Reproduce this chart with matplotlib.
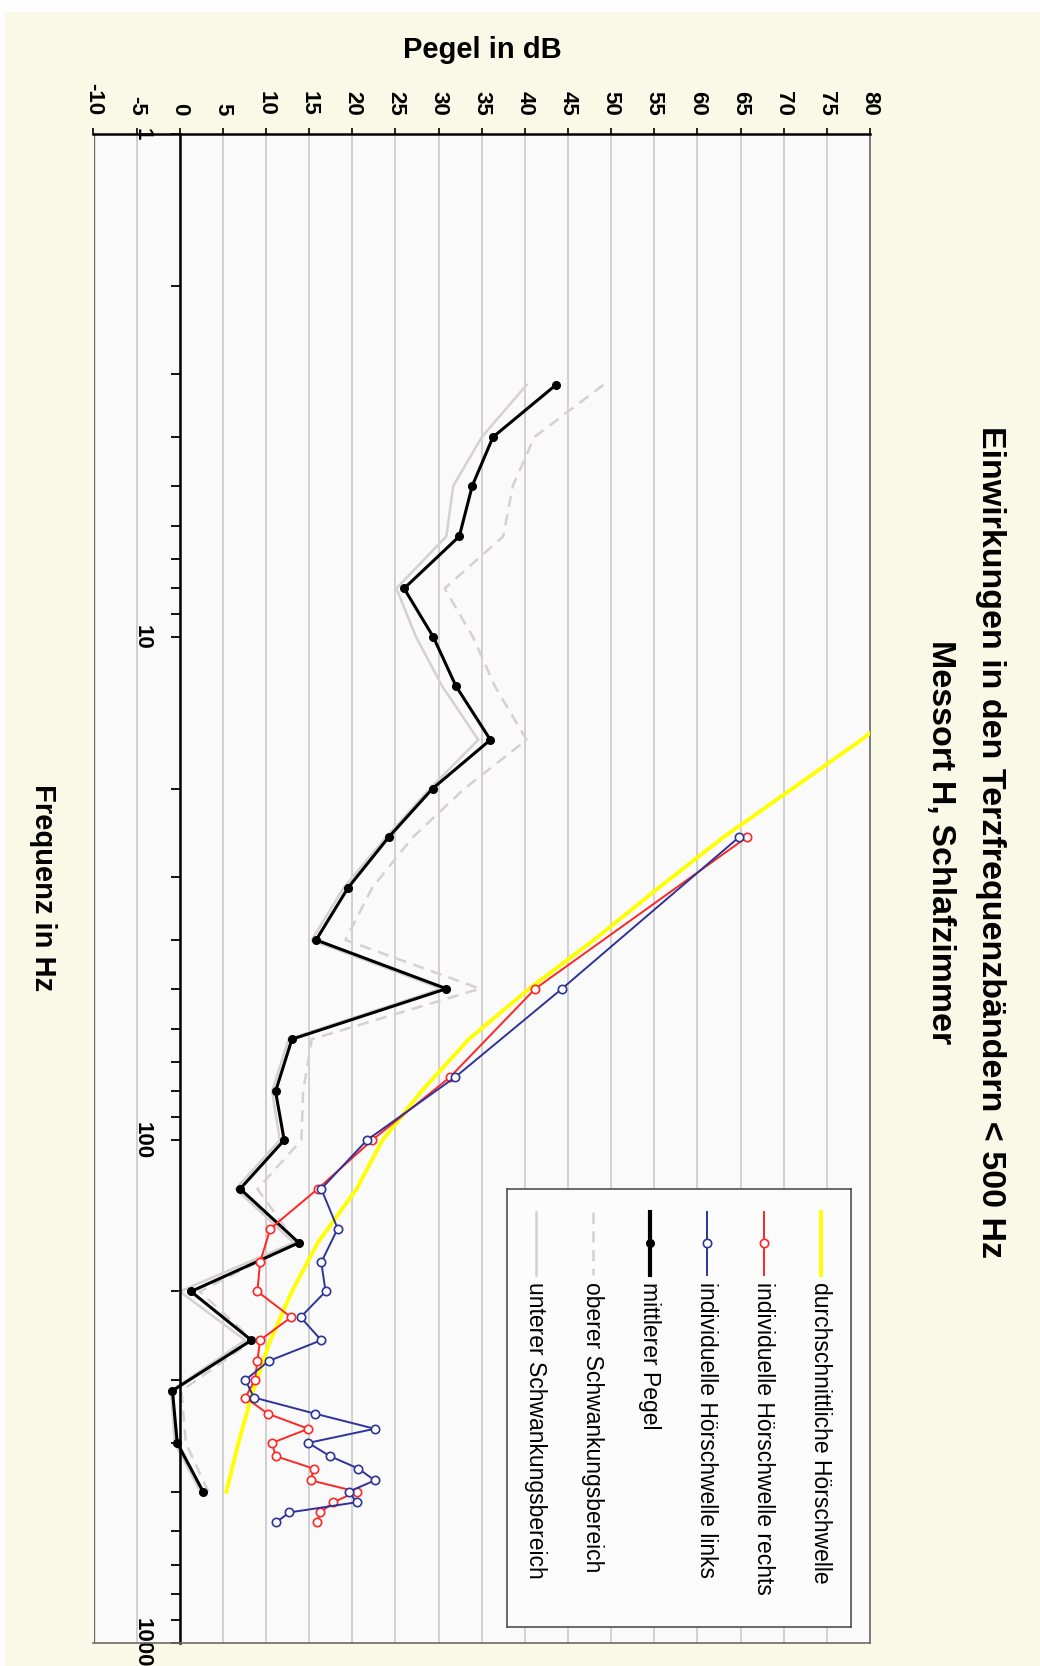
import matplotlib
matplotlib.use("Agg")
import matplotlib.pyplot as plt
from matplotlib.patches import Rectangle
from matplotlib.ticker import FixedLocator, LogLocator, NullFormatter

plt.rcParams['font.family'] = ['Liberation Sans', 'DejaVu Sans']

W, H = 1040, 1666

# Terzbänder der Messung (Hz) und Pegel (dB)
band_hz = [3.15, 4, 5, 6.3, 8, 10, 12.5, 16, 20, 25, 31.5, 40, 50, 63, 80,
           100, 125, 160, 200, 250, 315, 400, 500]
pegel_mittel = [43.6, 36.3, 33.9, 32.4, 26.0, 29.4, 32.0, 36.0, 29.3, 24.2, 19.5, 15.8, 30.9,
                13.0, 11.1, 12.1, 7.0, 13.8, 1.3, 8.3, -0.85, -0.3, 2.7]
pegel_oben = [49.1, 41.1, 38.6, 37.5, 30.7, 34.0, 36.5, 40.2, 33.0, 27.0, 22.3, 19.2, 34.8,
              15.3, 14.3, 14.1, 9.0, 13.5, 2.3, 8.5, 0.2, 0.7, 3.3]
pegel_unten = [40.2, 35.0, 31.7, 30.9, 25.1, 27.4, 30.4, 34.6, 29.0, 23.9, 19.0, 15.3, 30.3,
               12.6, 10.7, 11.6, 6.5, 13.2, 0.0, 7.6, -1.0, -0.6, 2.4]

# durchschnittliche Hörschwelle
schwelle_hz = [12.5, 16, 20, 25, 31.5, 40, 50, 63, 80, 100, 125, 160, 200, 250, 315, 400, 500]
schwelle_db = [87, 79, 71, 63, 55.5, 48, 40.5, 33.5, 28, 23.5, 20.5, 16, 13, 10.5, 8.5, 6.8, 5.4]

# individuelle Hörschwelle (25-Hz-Schritte)
hoer_hz = [25, 50, 75, 100, 125, 150, 175, 200, 225, 250, 275, 300, 325, 350, 375,
           400, 425, 450, 475, 500, 525, 550, 575]
hoer_rechts = [65.7, 41.2, 31.3, 22.3, 16.0, 10.5, 9.3, 9.0, 12.9, 9.3, 9.0, 8.7, 7.6, 10.2,
               14.9, 10.7, 11.1, 15.5, 15.2, 20.5, 17.8, 16.3, 15.9]
hoer_links = [64.8, 44.3, 31.9, 21.7, 16.4, 18.3, 16.4, 16.9, 14.0, 16.4, 10.3, 7.6, 8.6, 15.7,
              22.6, 14.9, 17.4, 20.7, 22.6, 19.6, 20.5, 12.7, 11.2]

db_ticks = list(range(-10, 81, 5))
hz_ticks = [1, 10, 100, 1000]
hz_labels = ['1', '10', '100', '1000']

styles = {
    'schwelle': dict(color='#FFFF00', lw=2.8),
    'rechts': dict(color='#FF2626', lw=1.4, marker='o', ms=6, mfc='white', mec='#FF2626', mew=1.2),
    'links': dict(color='#2E3399', lw=1.4, marker='o', ms=6, mfc='white', mec='#2E3399', mew=1.2),
    'mittel': dict(color='black', lw=2.2, marker='o', ms=5.5),
    'oben': dict(color='#D6D0D0', lw=1.8, ls=(0, (4.5, 3))),
    'unten': dict(color='#D6D0D0', lw=1.8),
}

fig = plt.figure(figsize=(W / 100, H / 100), dpi=100, facecolor='#FDFDFD')
fig.add_artist(Rectangle((5 / W, 0), 1 - 5 / W, 1 - 12 / H, transform=fig.transFigure,
                         facecolor='#FAF9E7', edgecolor='none', zorder=-10))

left, right, top, bottom = 93.5, 870, 134.3, 1643
ax = fig.add_axes([left / W, 1 - bottom / H, (right - left) / W, (bottom - top) / H])
ax.set_facecolor('#FAFAFA')

ax.plot(pegel_unten, band_hz, zorder=2, **styles['unten'])
ax.plot(pegel_oben, band_hz, zorder=2, **styles['oben'])
ax.plot(pegel_mittel, band_hz, zorder=3, **styles['mittel'])
ax.plot(schwelle_db, schwelle_hz, zorder=4, **styles['schwelle'])
ax.plot(hoer_rechts, hoer_hz, zorder=5, **styles['rechts'])
ax.plot(hoer_links, hoer_hz, zorder=6, **styles['links'])

ax.set_yscale('log')
ax.set_xlim(-10, 80)
ax.set_ylim(1000, 1)

# dB-Achse oben
ax.xaxis.tick_top()
ax.set_xticks(db_ticks)
ax.set_xticklabels([str(v) for v in db_ticks])
ax.tick_params(axis='x', which='major', top=True, bottom=False, direction='out',
               length=4.5, width=1.2, pad=9, labelsize=16, labelrotation=-90)
for t in ax.get_xticklabels():
    t.set_fontweight('bold')
ax.grid(axis='x', color='#C8C4C4', lw=1.1)
ax.set_axisbelow(True)

# Frequenzachse bei 0 dB
ax.spines['left'].set_position(('data', 0))
ax.yaxis.set_major_locator(FixedLocator(hz_ticks))
ax.set_yticklabels(hz_labels)
ax.yaxis.set_minor_locator(LogLocator(base=10, subs=range(2, 10), numticks=20))
ax.yaxis.set_minor_formatter(NullFormatter())
ax.tick_params(axis='y', which='both', left=True, direction='out', length=6.5, width=1.3,
               pad=13, labelsize=16, labelrotation=-90)
for t in ax.get_yticklabels():
    t.set_va('center')
    t.set_fontweight('bold')

for side in ('top', 'left'):
    ax.spines[side].set_color('black')
    ax.spines[side].set_linewidth(1.8)
for side in ('right', 'bottom'):
    ax.spines[side].set_color('#6A6A6A')
    ax.spines[side].set_linewidth(1.2)
ax.axvline(-10, color='#6A6A6A', lw=2.4, zorder=2.4)

fig.text(482.8 / W, 1 - 50 / H, 'Pegel in dB', ha='center', va='center',
         fontsize=21, fontweight='bold')
fig.text(42.5 / W, 1 - 888 / H, 'Frequenz in Hz', ha='center', va='center',
         rotation=-90, fontsize=21, fontweight='bold')
fig.text(990 / W, 1 - 842 / H, 'Einwirkungen in den Terzfrequenzbändern < 500 Hz',
         ha='center', va='center', rotation=-90, fontsize=24.5, fontweight='bold')
fig.text(940.5 / W, 1 - 842 / H, 'Messort H, Schlafzimmer',
         ha='center', va='center', rotation=-90, fontsize=24.5, fontweight='bold')

# Legende, gedreht wie das Diagramm
lx0, lx1, ly0, ly1 = 506.7, 850.7, 1189, 1626.7
lg = fig.add_axes([lx0 / W, 1 - ly1 / H, (lx1 - lx0) / W, (ly1 - ly0) / H])
lg.set_zorder(5)
lg.set_xlim(lx0, lx1)
lg.set_ylim(ly1, ly0)
lg.set_facecolor('#FCFCFC')
lg.set_xticks([])
lg.set_yticks([])
for s in lg.spines.values():
    s.set_color('#505050')
    s.set_linewidth(1.2)

entries = [('durchschnittliche Hörschwelle', 'schwelle'),
           ('individuelle Hörschwelle rechts', 'rechts'),
           ('individuelle Hörschwelle links', 'links'),
           ('mittlerer Pegel', 'mittel'),
           ('oberer Schwankungsbereich', 'oben'),
           ('unterer Schwankungsbereich', 'unten')]
for i, (label, key) in enumerate(entries):
    cx = 820.7 - 57 * i
    st = dict(styles[key])
    mk = {k: st.pop(k) for k in ('marker', 'ms', 'mfc', 'mec', 'mew') if k in st}
    if key == 'mittel':
        st['lw'] = 3.0
    lg.plot([cx, cx], [1211.7, 1275], **st)
    if mk:
        lg.plot([cx], [1242.7], color=st['color'], **mk)
    lg.text(cx, 1281.7, label, rotation=-90, ha='center', va='top', fontsize=16.5)

fig.savefig('out.png', dpi=100, facecolor=fig.get_facecolor())
